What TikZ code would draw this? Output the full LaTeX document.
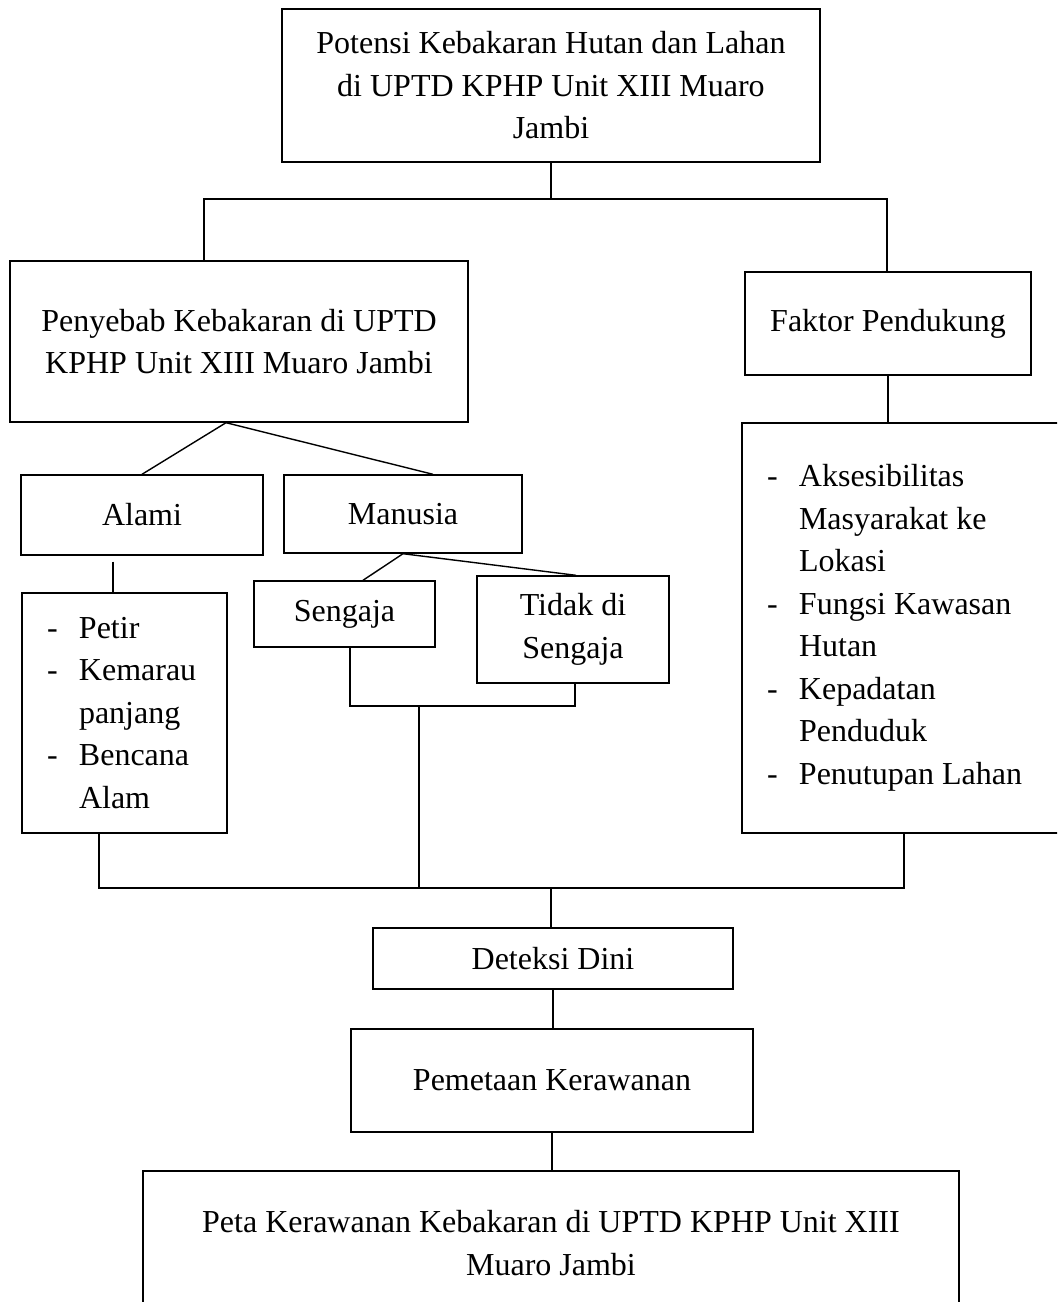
\documentclass[tikz,border=0pt]{standalone}
\usepackage{fontspec}
\setmainfont{Liberation Serif}
\newcommand{\butir}[1]{\makebox[16pt][l]{-}#1}
\newcommand{\lanjut}[1]{\hspace*{16pt}#1}
\begin{document}
\begin{tikzpicture}[x=0.5pt,y=-0.5pt,line width=0.7pt,
  kotak/.style={draw,align=center,inner sep=0pt,font=\fontsize{16}{21.25}\selectfont},
  daftar/.style={draw,align=flush left,inner ysep=0pt,inner xsep=12.5pt,font=\fontsize{16}{21.25}\selectfont}]
\useasboundingbox (0,0) rectangle (1057,1302);
\clip (0,0) rectangle (1057,1302);
\node[kotak,minimum width=269pt,minimum height=76.5pt] (potensi) at (551,85.5) {Potensi Kebakaran Hutan dan Lahan\\di UPTD KPHP Unit XIII Muaro\\Jambi};
\node[kotak,minimum width=229pt,minimum height=80.5pt] (penyebab) at (239,341.5) {Penyebab Kebakaran di UPTD\\KPHP Unit XIII Muaro Jambi};
\node[kotak,minimum width=143pt,minimum height=51.5pt] (faktor) at (888,323.5) {Faktor Pendukung};
\node[kotak,minimum width=121pt,minimum height=40pt] (alami) at (142,515) {Alami};
\node[kotak,minimum width=119pt,minimum height=39pt] (manusia) at (403,514) {Manusia};
\node[kotak,minimum width=90.5pt,minimum height=33pt] (sengaja) at (344.5,614) {Sengaja};
\node[kotak,minimum width=96pt,minimum height=53.5pt] (tidak) at (573,629.5) {Tidak di\\Sengaja};
\node[daftar,text width=77.5pt,minimum height=120pt] (petir) at (124.5,713) {\butir{Petir}\\\butir{Kemarau}\\\lanjut{panjang}\\\butir{Bencana}\\\lanjut{Alam}};
\node[daftar,text width=139pt,minimum height=205pt] (akses) at (906,628) {\butir{Aksesibilitas}\\\lanjut{Masyarakat ke}\\\lanjut{Lokasi}\\\butir{Fungsi Kawasan}\\\lanjut{Hutan}\\\butir{Kepadatan}\\\lanjut{Penduduk}\\\butir{Penutupan Lahan}};
\node[kotak,minimum width=180pt,minimum height=30.5pt] (deteksi) at (553,958.5) {Deteksi Dini};
\node[kotak,minimum width=201pt,minimum height=51.5pt] (pemetaan) at (552,1080.5) {Pemetaan Kerawanan};
\node[kotak,minimum width=408pt,minimum height=72pt] (peta) at (551,1243) {Peta Kerawanan Kebakaran di UPTD KPHP Unit XIII\\Muaro Jambi};
\coordinate (kiri) at (204,199);
\coordinate (kanan) at (887,199);
\coordinate (gabung) at (419,706);
\coordinate (bus) at (551,888);
\draw (potensi.south) -- (potensi.south |- kiri);
\draw (kiri |- penyebab.north) -- (kiri) -- (kanan) -- (kanan |- faktor.north);
\draw (alami.north) -- ([xshift=-6.5pt]penyebab.south) -- ([xshift=15pt]manusia.north);
\draw ([xshift=9.25pt]sengaja.north) -- (manusia.south) -- ([xshift=1.5pt]tidak.north);
\draw ([xshift=-14.5pt,yshift=-3pt]alami.south) -- ([xshift=-5.75pt]petir.north);
\draw (faktor.south) -- (faktor.south |- akses.north);
\draw ([xshift=2.75pt]sengaja.south) |- (gabung) -| ([xshift=1pt]tidak.south);
\draw (gabung) -- (gabung |- bus);
\draw ([xshift=-12.75pt]petir.south) |- (bus) -| ([xshift=-1pt]akses.south);
\draw (bus) -- (bus |- deteksi.north);
\draw (deteksi.south) -- (deteksi.south |- pemetaan.north);
\draw (pemetaan.south) -- (pemetaan.south |- peta.north);
\end{tikzpicture}
\end{document}
